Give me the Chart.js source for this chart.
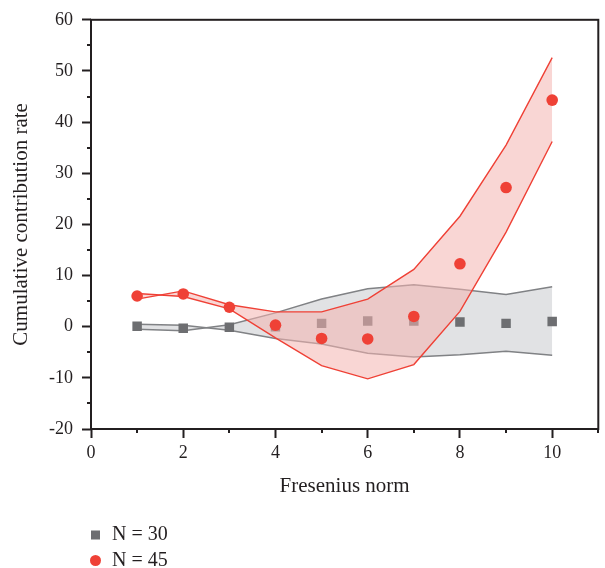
<!DOCTYPE html>
<html>
<head>
<meta charset="utf-8">
<script src="https://cdn.jsdelivr.net/npm/chart.js@4"></script>
<style>
  html, body { margin: 0; padding: 0; background: #fff; }
  #wrap { width: 605px; height: 568px; position: relative; }
</style>
</head>
<body>
<div id="wrap"><canvas id="myChart"></canvas></div>
<script>
// Fresenius norm positions
const xs = [1, 2, 3, 4, 5, 6, 7, 8, 9, 10];

// measured points
const n30 = [0.1, -0.3, -0.1, 0.0, 0.65, 1.1, 1.1, 0.9, 0.65, 1.0];
const n45 = [6.0, 6.4, 3.8, 0.3, -2.3, -2.4, 2.0, 12.3, 27.2, 44.3];

// band edges (they swap sides where the band crosses over)
const grayEdgeA = [0.5, 0.3, -0.7, -2.3, -3.4, -5.2, -5.9, -5.5, -4.8, -5.6];
const grayEdgeB = [-0.5, -0.8, 0.4, 2.7, 5.4, 7.4, 8.2, 7.3, 6.3, 7.8];
const redEdgeA = [6.5, 5.9, 3.5, -2.2, -7.6, -10.2, -7.4, 3.0, 18.5, 36.2];
const redEdgeB = [5.4, 7.0, 4.3, 2.9, 2.9, 5.4, 11.2, 21.6, 35.5, 52.6];

const yTicks = [-20, -10, 0, 10, 20, 30, 40, 50, 60];

const ink = '#231f20';
const pts = (ys) => xs.map((x, i) => ({ x: x, y: ys[i] }));

Chart.defaults.font.family = '"Liberation Serif", "Times New Roman", serif';
Chart.defaults.color = ink;

// frame, minor ticks and legend
const decorations = {
    id: 'decorations',
    afterDraw(chart) {
        const { ctx, chartArea: a, scales } = chart;
        ctx.save();
        ctx.strokeStyle = ink;
        ctx.lineWidth = 2;
        ctx.strokeRect(a.left, a.top, a.right - a.left, a.bottom - a.top);

        ctx.beginPath();
        for (let v = -15; v < 60; v += 10) {
            const y = Math.round(scales.y.getPixelForValue(v));
            ctx.moveTo(a.left - 4, y);
            ctx.lineTo(a.left, y);
        }
        for (let v = 1; v <= 11; v += 2) {
            const x = Math.round(scales.x.getPixelForValue(v));
            ctx.moveTo(x, a.bottom);
            ctx.lineTo(x, a.bottom + 4);
        }
        ctx.stroke();

        // legend
        const items = chart.data.datasets.filter(d => d.inLegend);
        ctx.font = '20px "Liberation Serif", serif';
        ctx.textBaseline = 'middle';
        ctx.textAlign = 'left';
        items.forEach((d, i) => {
            const y = 535 + i * 25.5;
            ctx.fillStyle = d.backgroundColor;
            if (d.pointStyle === 'rect') {
                ctx.fillRect(91, y - 4.5, 9, 9);
            } else {
                ctx.beginPath();
                ctx.arc(95.5, y, 5.5, 0, Math.PI * 2);
                ctx.fill();
            }
            ctx.fillStyle = ink;
            ctx.fillText(d.label, 112, y);
        });
        ctx.restore();
    }
};

const data = {
    datasets: [
        {
            label: 'band30a',
            data: pts(grayEdgeA),
            borderColor: '#808285',
            borderWidth: 1.5,
            backgroundColor: 'rgba(196,198,202,0.5)',
            fill: '+1',
            pointRadius: 0,
            order: 6,
        },
        {
            label: 'band30b',
            data: pts(grayEdgeB),
            borderColor: '#808285',
            borderWidth: 1.5,
            fill: false,
            pointRadius: 0,
            order: 5,
        },
        {
            label: 'N = 30',
            inLegend: true,
            data: pts(n30),
            showLine: false,
            pointStyle: 'rect',
            pointRadius: 6.7,
            pointBorderWidth: 0,
            backgroundColor: '#6d6e71',
            borderColor: '#6d6e71',
            order: 4,
        },
        {
            label: 'band45a',
            data: pts(redEdgeA),
            borderColor: '#ef4136',
            borderWidth: 1.4,
            backgroundColor: 'rgba(244,180,177,0.55)',
            fill: '+1',
            pointRadius: 0,
            order: 3,
        },
        {
            label: 'band45b',
            data: pts(redEdgeB),
            borderColor: '#ef4136',
            borderWidth: 1.4,
            fill: false,
            pointRadius: 0,
            order: 2,
        },
        {
            label: 'N = 45',
            inLegend: true,
            data: pts(n45),
            showLine: false,
            pointStyle: 'circle',
            pointRadius: 5.8,
            pointBorderWidth: 0,
            backgroundColor: '#ef4136',
            borderColor: '#ef4136',
            order: 1,
        },
    ],
};

const config = {
    type: 'line',
    data: data,
    plugins: [decorations],
    options: {
        responsive: true,
        maintainAspectRatio: false,
        animation: false,
        layout: { padding: { top: 16, right: 1, bottom: 0, left: 0 } },
        plugins: {
            legend: { display: false },
            tooltip: { enabled: false },
        },
        scales: {
            x: {
                type: 'linear',
                min: 0,
                max: 11,
                afterFit: (scale) => { scale.height = 139; },
                border: { display: false },
                grid: {
                    drawOnChartArea: false,
                    tickLength: 9,
                    tickWidth: 2,
                    tickColor: ink,
                },
                ticks: {
                    stepSize: 2,
                    includeBounds: false,
                    padding: 4,
                    maxRotation: 0,
                    font: { size: 18 },
                    color: ink,
                },
                title: {
                    display: true,
                    text: 'Fresenius norm',
                    font: { size: 21 },
                    color: ink,
                    padding: { top: 0, bottom: 69 },
                },
            },
            y: {
                min: -20,
                max: 60,
                afterFit: (scale) => { scale.width = 91; },
                afterBuildTicks: (scale) => {
                    scale.ticks = yTicks.map(v => ({ value: v }));
                },
                border: { display: false },
                grid: {
                    drawOnChartArea: false,
                    tickLength: 9,
                    tickWidth: 2,
                    tickColor: ink,
                },
                ticks: {
                    padding: 9,
                    font: { size: 18 },
                    color: ink,
                },
                title: {
                    display: true,
                    text: 'Cumulative contribution rate',
                    font: { size: 21 },
                    color: ink,
                    padding: { top: 9, bottom: 0 },
                },
            },
        },
    },
};

const myChart = new Chart(document.querySelector('#myChart').getContext('2d'), config);
</script>
</body>
</html>
